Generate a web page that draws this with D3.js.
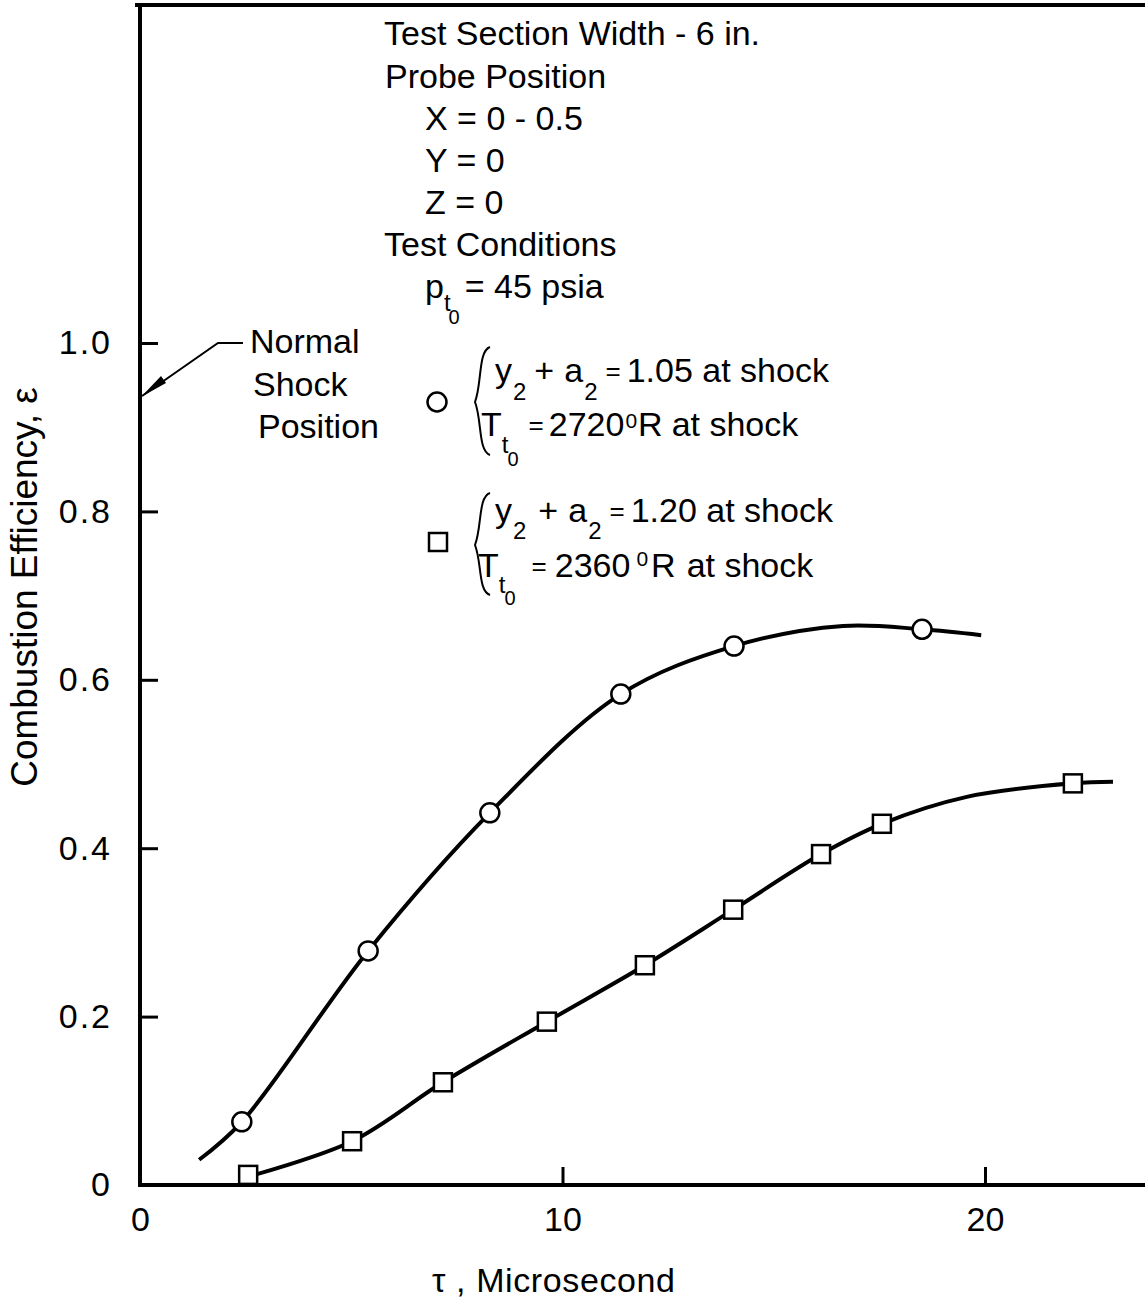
<!DOCTYPE html>
<html>
<head>
<meta charset="utf-8">
<script src="https://cdn.jsdelivr.net/npm/d3@7"></script>
<style>
  html, body { margin: 0; padding: 0; background: #fff; }
  svg text { font-family: "Liberation Sans", Arial, sans-serif; fill: #000; }
</style>
</head>
<body>
<svg id="chart" width="1145" height="1303"></svg>
<script>
// ---- data ----
const circleTau = [2.41, 5.40, 8.28, 11.38, 14.06, 18.51];
const circleEff = [0.075, 0.278, 0.442, 0.583, 0.640, 0.660];
const circleFitTau = [1.40, 2.41, 5.40, 8.28, 11.38, 14.06, 16.64, 18.51, 19.91];
const circleFitEff = [0.030, 0.075, 0.278, 0.442, 0.583, 0.640, 0.664, 0.660, 0.653];

const squareTau = [2.56, 5.02, 7.17, 9.63, 11.95, 14.04, 16.12, 17.56, 22.08];
const squareEff = [0.012, 0.052, 0.122, 0.194, 0.261, 0.327, 0.393, 0.429, 0.477];
const squareFitTau = [2.56, 5.02, 7.17, 9.63, 11.95, 14.04, 16.12, 17.56, 19.57, 22.08, 23.03];
const squareFitEff = [0.010, 0.052, 0.122, 0.194, 0.261, 0.327, 0.393, 0.429, 0.461, 0.477, 0.479];

const xTicks = [0, 10, 20];
const xTickLabels = ["0", "10", "20"];
const yTicks = [0, 0.2, 0.4, 0.6, 0.8, 1.0];
const yTickLabels = ["0", "0.2", "0.4", "0.6", "0.8", "1.0"];

// ---- scales ----
const svg = d3.select("#chart");
const x = d3.scaleLinear().domain([0, 20]).range([140, 985]);
const y = d3.scaleLinear().domain([0, 1]).range([1185, 343]);
const FS = 34;
const FONT = "Liberation Sans, Arial, sans-serif";

// frame lines (axis lines)
svg.append("line").attr("x1", x(0)).attr("x2", x(0)).attr("y1", 4).attr("y2", y(0) + 2)
  .attr("stroke", "#000").attr("stroke-width", 4);
svg.append("line").attr("x1", x(0) - 5).attr("x2", 1145).attr("y1", 5).attr("y2", 5)
  .attr("stroke", "#000").attr("stroke-width", 4);
svg.append("line").attr("x1", x(0) - 2).attr("x2", 1145).attr("y1", y(0)).attr("y2", y(0))
  .attr("stroke", "#000").attr("stroke-width", 4);

// axes
const yAxis = d3.axisLeft(y).tickValues(yTicks)
  .tickFormat((d, i) => yTickLabels[i])
  .tickSizeInner(-18).tickSizeOuter(0).tickPadding(28);
const gy = svg.append("g").attr("transform", `translate(${x(0)},0)`).call(yAxis);
gy.select(".domain").remove();
gy.selectAll(".tick line").attr("stroke", "#000").attr("stroke-width", 3);
gy.selectAll(".tick text").attr("font-size", FS).attr("letter-spacing", 2).attr("font-family", FONT);

const xAxis = d3.axisBottom(x).tickValues(xTicks)
  .tickFormat((d, i) => xTickLabels[i])
  .tickSizeInner(-18).tickSizeOuter(0).tickPadding(22);
const gx = svg.append("g").attr("transform", `translate(0,${y(0)})`).call(xAxis);
gx.select(".domain").remove();
gx.selectAll(".tick line").attr("stroke", "#000").attr("stroke-width", 3);
gx.selectAll(".tick text").attr("font-size", FS).attr("font-family", FONT);

// axis titles
svg.append("text").attr("transform", "translate(37,587) rotate(-90)")
  .attr("text-anchor", "middle").attr("font-size", 37)
  .text("Combustion Efficiency, \u03b5");
svg.append("text").attr("x", 432).attr("y", 1292).attr("font-size", FS)
  .attr("letter-spacing", 0.6)
  .text("\u03c4 ,  Microsecond");

// curves
const line = d3.line().x(d => x(d[0])).y(d => y(d[1])).curve(d3.curveCatmullRom.alpha(0.5));
svg.append("path").attr("d", line(circleFitTau.map((t, i) => [t, circleFitEff[i]])))
  .attr("fill", "none").attr("stroke", "#000").attr("stroke-width", 4);
svg.append("path").attr("d", line(squareFitTau.map((t, i) => [t, squareFitEff[i]])))
  .attr("fill", "none").attr("stroke", "#000").attr("stroke-width", 4);

// markers
svg.selectAll("circle.pt").data(circleTau.map((t, i) => [t, circleEff[i]])).enter()
  .append("circle").attr("class", "pt")
  .attr("cx", d => x(d[0])).attr("cy", d => y(d[1])).attr("r", 9.5)
  .attr("fill", "#fff").attr("stroke", "#000").attr("stroke-width", 2.5);
const SQ = 18;
svg.selectAll("rect.pt").data(squareTau.map((t, i) => [t, squareEff[i]])).enter()
  .append("rect").attr("class", "pt")
  .attr("x", d => x(d[0]) - SQ / 2).attr("y", d => y(d[1]) - SQ / 2)
  .attr("width", SQ).attr("height", SQ)
  .attr("fill", "#fff").attr("stroke", "#000").attr("stroke-width", 2.5);

// ---- annotations ----
function txt(px, py, s, size) {
  return svg.append("text").attr("x", px).attr("y", py).attr("font-size", size || FS).text(s);
}
// lay out pieces left to right, measuring each one
function flow(x0, base, parts) {
  let cx = x0;
  parts.forEach(p => {
    cx += p.gap || 0;
    const t = svg.append("text").attr("x", cx).attr("y", base + (p.dy || 0))
      .attr("font-size", p.size || FS).text(p.s);
    cx += t.node().getComputedTextLength();
  });
}
txt(384, 45, "Test Section Width - 6 in.");
txt(385, 88, "Probe Position");
txt(425, 130, "X = 0 - 0.5");
txt(425, 172, "Y = 0");
txt(425, 214, "Z = 0");
txt(384, 256, "Test Conditions");
flow(425, 298, [
  { s: "p" },
  { s: "t", size: 24, dy: 13, gap: 0 },
  { s: "0", size: 20, dy: 26, gap: -2 },
  { s: "= 45 psia", gap: 5 }
]);

txt(250, 353, "Normal");
txt(253, 396, "Shock");
txt(258, 438, "Position");

// leader line with arrow to the axis
svg.append("path").attr("d", `M243,343 L218,343 L${x(0) + 2},396`)
  .attr("fill", "none").attr("stroke", "#000").attr("stroke-width", 2);
svg.append("path").attr("d", `M${x(0) + 1},397 L166,383 L161,376 Z`).attr("fill", "#000");

// legend
function brace(xr, xl, yt, ym, yb) {
  return `M${xr},${yt} C${xl + 3},${yt + 4} ${xl + 7},${ym - 18} ${xl},${ym} ` +
         `C${xl + 7},${ym + 18} ${xl + 3},${yb - 4} ${xr},${yb}`;
}
svg.append("circle").attr("cx", 437).attr("cy", 402).attr("r", 9.5)
  .attr("fill", "#fff").attr("stroke", "#000").attr("stroke-width", 2.5);
svg.append("path").attr("d", brace(490, 475, 347, 402, 455))
  .attr("fill", "none").attr("stroke", "#000").attr("stroke-width", 2);
flow(495, 382, [
  { s: "y" }, { s: "2", size: 24, dy: 18, gap: 1 },
  { s: "+", gap: 8 }, { s: "a", gap: 10 }, { s: "2", size: 24, dy: 18, gap: 1 },
  { s: "=", size: 26, dy: -2, gap: 8 }, { s: "1.05 at shock", gap: 6 }
]);
flow(481, 436, [
  { s: "T" }, { s: "t", size: 24, dy: 17, gap: 0 }, { s: "0", size: 20, dy: 30, gap: -1 },
  { s: "=", size: 26, dy: -2, gap: 10 }, { s: "2720", gap: 5 },
  { s: "0", size: 21, dy: -8, gap: 1 }, { s: "R", gap: 1 }, { s: "at shock", gap: 9 }
]);

svg.append("rect").attr("x", 438 - SQ / 2).attr("y", 542 - SQ / 2).attr("width", SQ).attr("height", SQ)
  .attr("fill", "#fff").attr("stroke", "#000").attr("stroke-width", 2.5);
svg.append("path").attr("d", brace(490, 475, 493, 545, 595))
  .attr("fill", "none").attr("stroke", "#000").attr("stroke-width", 2);
flow(495, 522, [
  { s: "y" }, { s: "2", size: 24, dy: 17, gap: 1 },
  { s: "+", gap: 12 }, { s: "a", gap: 10 }, { s: "2", size: 24, dy: 17, gap: 1 },
  { s: "=", size: 26, dy: -2, gap: 8 }, { s: "1.20 at shock", gap: 6 }
]);
flow(478, 577, [
  { s: "T" }, { s: "t", size: 24, dy: 16, gap: 0 }, { s: "0", size: 20, dy: 28, gap: -1 },
  { s: "=", size: 26, dy: -2, gap: 16 }, { s: "2360", gap: 8 },
  { s: "0", size: 21, dy: -11, gap: 6 }, { s: "R", gap: 3 }, { s: "at shock", gap: 11 }
]);
</script>
</body>
</html>
